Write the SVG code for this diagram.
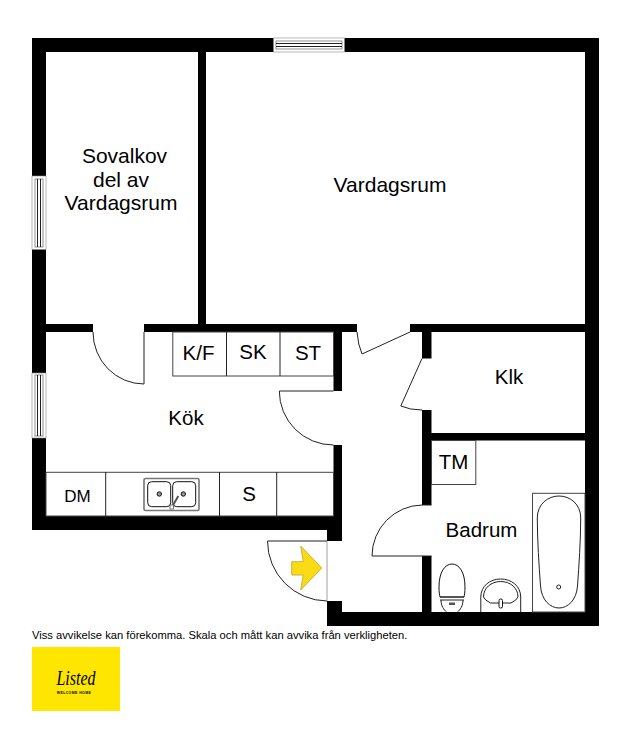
<svg xmlns="http://www.w3.org/2000/svg" width="631" height="749" viewBox="0 0 631 749">
<style>
text{font-family:"Liberation Sans",Arial,sans-serif;fill:#000;font-size:20.500px;text-anchor:middle}
.big{font-size:21px}
.w{fill:#000}
.l{fill:none;stroke:#222;stroke-width:1}
.c{fill:#fff;stroke:#444;stroke-width:1}
.win{fill:#fff;stroke:#777;stroke-width:.8}
.f{fill:#fff;stroke:#111;stroke-width:1}
</style>
<rect width="631" height="749" fill="#fff"/>
<g id="walls">
<rect class="w" x="32" y="38" width="567" height="14"/>
<rect class="w" x="32" y="38" width="14" height="492"/>
<rect class="w" x="585" y="38" width="14" height="588"/>
<rect class="w" x="32" y="516" width="310" height="14"/>
<rect class="w" x="327" y="516" width="15" height="25"/>
<rect class="w" x="327" y="601" width="15" height="25"/>
<rect class="w" x="342" y="612" width="257" height="14"/>
<rect class="w" x="198" y="52" width="8" height="272"/>
<rect class="w" x="46" y="324" width="47" height="8"/>
<rect class="w" x="144" y="324" width="213" height="8"/>
<rect class="w" x="410" y="324" width="175" height="8"/>
<rect class="w" x="333.500" y="332" width="8.500" height="59"/>
<rect class="w" x="333.500" y="445" width="8.500" height="71"/>
<rect class="w" x="422" y="332" width="9.500" height="26.500"/>
<rect class="w" x="422" y="410" width="9.500" height="95"/>
<rect class="w" x="422" y="556" width="9.500" height="56"/>
<rect class="w" x="431" y="433" width="154" height="7.500"/>
</g>
<g id="windows">
<rect x="273.500" y="38" width="71" height="14" fill="#fff" stroke="#888" stroke-width=".6"/>
<rect class="win" x="276" y="41" width="66" height="8"/>
<path class="l" d="M276 43.500H342M276 46.500H342"/>
<rect x="32" y="176" width="14" height="73.500" fill="#fff" stroke="#888" stroke-width=".6"/>
<rect class="win" x="35" y="179" width="8" height="68"/>
<path class="l" d="M37.500 179V247M40.500 179V247"/>
<rect x="32" y="373" width="14" height="65" fill="#fff" stroke="#888" stroke-width=".6"/>
<rect class="win" x="35" y="375" width="8" height="61"/>
<path class="l" d="M37.500 375V436M40.500 375V436"/>
</g>
<g id="doors">
<path class="l" d="M144 332V384A51 52 0 0 1 93 332"/>
<path class="l" d="M333.500 391H279.300A54 54 0 0 0 333.500 445"/>
<path class="l" d="M357 332Q358 345 362 354L410 332"/>
<path class="l" d="M422 358.500L400.800 406Q410 410 422 410"/>
<path class="l" d="M431.500 556H372A51 51 0 0 1 422 505H431.500"/>
<path class="l" d="M327 541H267.500A60 60 0 0 0 327 601"/>
<path d="M327 541V601" fill="none" stroke="#888" stroke-width=".8"/>
</g>
<g id="kitchen">
<rect class="c" x="172.800" y="332" width="160.700" height="44"/>
<path class="l" d="M226.500 332V376M280 332V376"/>
<rect class="c" x="46" y="472.300" width="287.500" height="43.700"/>
<path class="l" d="M105.700 472V516M219.500 472V516M276.700 472V516"/>
<rect x="144" y="478.500" width="55" height="32" rx="1.500" fill="#fff" stroke="#777" stroke-width="1.600"/>
<rect class="f" x="147.700" y="481.700" width="23" height="25" rx="4"/>
<rect class="f" x="172.700" y="481.700" width="23" height="25" rx="4"/>
<circle cx="159.300" cy="494" r="2.200" fill="#999" stroke="#111"/>
<circle cx="183.300" cy="494" r="2.200" fill="#999" stroke="#111"/>
<path d="M172 507L178.300 496" stroke="#555" stroke-width="2" fill="none"/>
<rect x="170" y="505" width="3.500" height="4" fill="#fff" stroke="#555" stroke-width=".8"/>
</g>
<g id="bathroom">
<rect class="c" x="431.500" y="440.500" width="44.300" height="44"/>
<rect class="c" x="532.500" y="493.300" width="52.500" height="118.700"/>
<path class="l" d="M537.300 518C537.300 504 548 496 559 496C570 496 580.700 504 580.700 518C580.700 540 579 565 577.500 586C576.500 600 568 608 559 608C550 608 541.500 600 540.500 586C539 565 537.300 540 537.300 518Z"/>
<circle cx="558.700" cy="587" r="2" fill="#fff" stroke="#222"/>
<path class="f" d="M439 587C439 572 445 564 452 564C459 564 465 572 465 587C465 592 464.500 595 464 597H440C439.500 595 439 592 439 587Z"/>
<path class="l" d="M440 597H464M440 600H464M441 600C441 606 444 610 446.500 612M463 600C463 606 460 610 457.500 612"/>
<rect x="449" y="602.500" width="6" height="2.500" fill="#555"/>
<path class="l" d="M480.800 612V597C480.800 586 490 579 500.700 579C511.500 579 520.700 586 520.700 597V612"/>
<path class="l" d="M483.500 597C483.500 588 491 581.500 500.700 581.500C510.500 581.500 518 588 518 597Q517 600 511 603H490.500Q484.500 600 483.500 597Z"/>
<rect class="f" x="499" y="599" width="3.500" height="9" rx="1.500"/>
</g>
<g id="entry">
<path d="M300.700 546L321.700 568L300.700 590L303.300 575H291.700V561.700H303.300Z" fill="#fbdc14" stroke="#c9b23a" stroke-width="1"/>
</g>
<g id="labels">
<text class="big" x="124.500" y="163">Sovalkov</text>
<text class="big" x="121" y="186.700">del av</text>
<text class="big" x="121" y="210">Vardagsrum</text>
<text class="big" x="390" y="192">Vardagsrum</text>
<text x="198.500" y="360">K/F</text>
<text x="253" y="359">SK</text>
<text x="308" y="360">ST</text>
<text x="186" y="425">Kök</text>
<text x="509" y="384">Klk</text>
<text x="453.500" y="469">TM</text>
<text x="481.500" y="537">Badrum</text>
<text x="77.500" y="502" style="font-size:17px">DM</text>
<text x="249" y="500.700">S</text>
<text x="32" y="639" style="font-size:11.200px;text-anchor:start">Viss avvikelse kan förekomma. Skala och mått kan avvika från verkligheten.</text>
</g>
<g id="logo">
<rect x="32" y="647" width="88" height="64" fill="#ffe600"/>
<text transform="translate(76 685) scale(1 1.35)" style="font-family:'Liberation Serif',serif;font-style:italic;font-size:16px">Listed</text>
<text x="74" y="694" style="font-weight:bold;font-size:3.500px;letter-spacing:.4px">WELCOME HOME</text>
</g>
</svg>
